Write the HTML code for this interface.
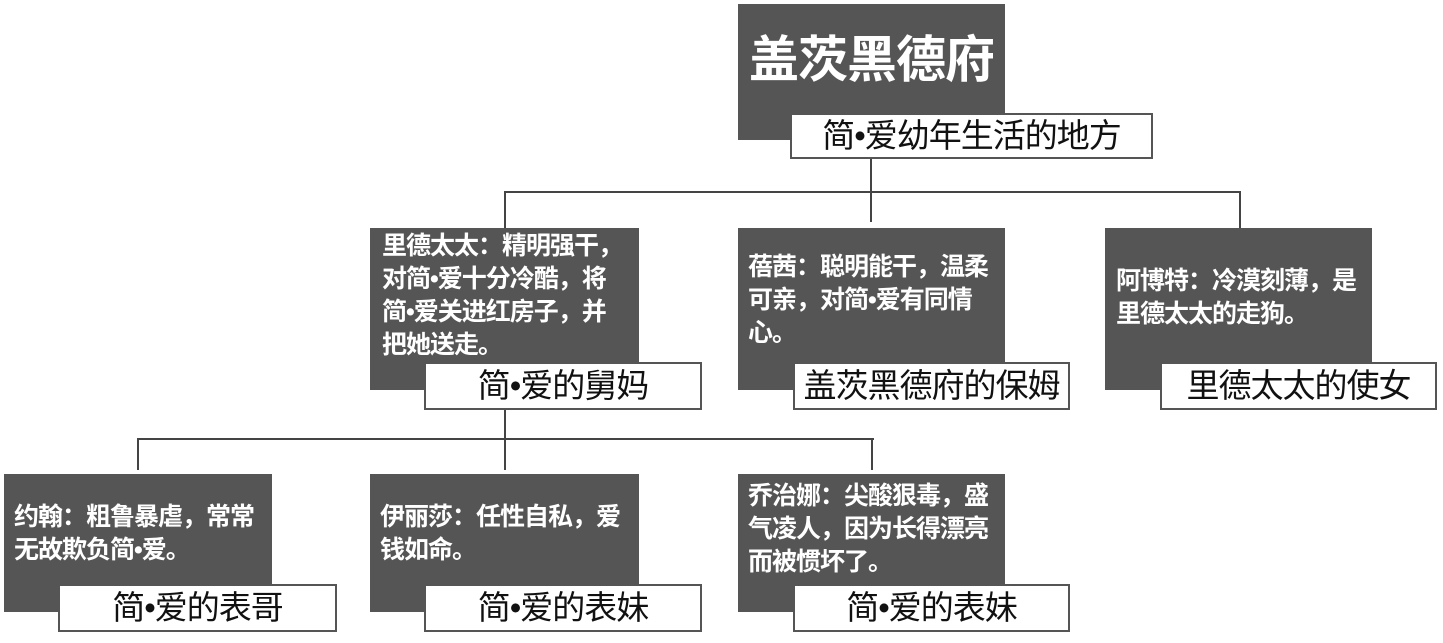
<!DOCTYPE html>
<html><head><meta charset="utf-8"><style>
body{margin:0;width:1443px;height:643px;background:#fff;position:relative;overflow:hidden;font-family:"Liberation Sans","Noto Sans CJK SC",sans-serif}
.d{position:absolute;background:#555;}
.t{position:absolute;color:#fff;font-weight:bold;font-size:25px;line-height:33px;white-space:nowrap;letter-spacing:-1px}
.l{position:absolute;background:#fff;border:2px solid #555;box-sizing:border-box;text-align:center;font-size:33px;color:#111;white-space:nowrap;letter-spacing:-1px}
.h{position:absolute;background:#444;height:2px}
.v{position:absolute;background:#444;width:2px}
</style></head><body>
<div class="d" style="left:738px;top:4px;width:267px;height:136px"></div>
<div style="position:absolute;left:738px;top:30px;width:267px;text-align:center;color:#fff;font-size:50px;line-height:60px;font-weight:bold;letter-spacing:-1px">盖茨黑德府</div>
<div class="l" style="left:790px;top:113px;width:363px;height:46px;line-height:42px">简•爱幼年生活的地方</div>

<div class="v" style="left:870px;top:159px;height:63px"></div>
<div class="h" style="left:504px;top:191px;width:737px"></div>
<div class="v" style="left:504px;top:191px;height:37px"></div>
<div class="v" style="left:1239px;top:191px;height:37px"></div>

<div class="d" style="left:370px;top:228px;width:269px;height:162px"></div>
<div class="t" style="left:382px;top:230px">里德太太：精明强干，<br>对简•爱十分冷酷，将<br>简•爱关进红房子，并<br>把她送走。</div>
<div class="l" style="left:424px;top:362px;width:278px;height:48px;line-height:44px">简•爱的舅妈</div>

<div class="d" style="left:738px;top:228px;width:267px;height:162px"></div>
<div class="t" style="left:748px;top:251px">蓓茜：聪明能干，温柔<br>可亲，对简•爱有同情<br>心。</div>
<div class="l" style="left:793px;top:362px;width:277px;height:48px;line-height:44px">盖茨黑德府的保姆</div>

<div class="d" style="left:1105px;top:228px;width:267px;height:162px"></div>
<div class="t" style="left:1116px;top:265px">阿博特：冷漠刻薄，是<br>里德太太的走狗。</div>
<div class="l" style="left:1160px;top:362px;width:277px;height:48px;line-height:44px">里德太太的使女</div>

<div class="v" style="left:504px;top:410px;height:60px"></div>
<div class="h" style="left:137px;top:438px;width:737px"></div>
<div class="v" style="left:137px;top:438px;height:32px"></div>
<div class="v" style="left:871px;top:438px;height:32px"></div>

<div class="d" style="left:4px;top:474px;width:268px;height:138px"></div>
<div class="t" style="left:14px;top:501px">约翰：粗鲁暴虐，常常<br>无故欺负简•爱。</div>
<div class="l" style="left:58px;top:584px;width:279px;height:48px;line-height:44px">简•爱的表哥</div>

<div class="d" style="left:370px;top:474px;width:269px;height:138px"></div>
<div class="t" style="left:380px;top:501px">伊丽莎：任性自私，爱<br>钱如命。</div>
<div class="l" style="left:424px;top:584px;width:278px;height:48px;line-height:44px">简•爱的表妹</div>

<div class="d" style="left:738px;top:474px;width:267px;height:138px"></div>
<div class="t" style="left:748px;top:480px">乔治娜：尖酸狠毒，盛<br>气凌人，因为长得漂亮<br>而被惯坏了。</div>
<div class="l" style="left:793px;top:584px;width:277px;height:48px;line-height:44px">简•爱的表妹</div>
</body></html>
